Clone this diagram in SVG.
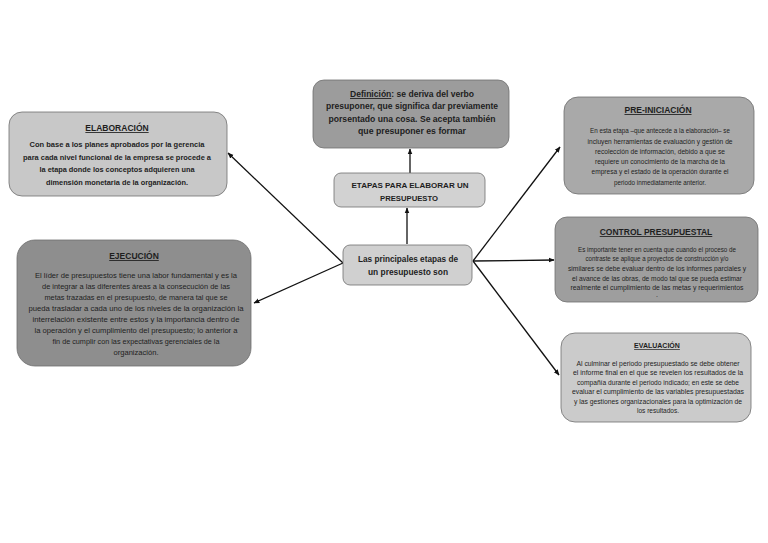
<svg xmlns="http://www.w3.org/2000/svg" width="768" height="543" viewBox="0 0 768 543">
<style>
.box{stroke:#6e6e6e;stroke-width:0.8}
text{font-family:"Liberation Sans",Arial,sans-serif;fill:#1e1e1e;text-anchor:middle}
.t{font-weight:bold;font-size:8.5px;text-decoration:underline}
.b{font-weight:bold;font-size:7.6px}
.r{font-size:7px}
.d{font-weight:bold;font-size:8.6px}
.c{stroke:#111;stroke-width:1.3;fill:none;marker-end:url(#ah)}
</style>
<defs>
<marker id="ah" viewBox="0 0 10 10" refX="9" refY="5" markerWidth="6" markerHeight="6" orient="auto" markerUnits="userSpaceOnUse">
<path d="M0,1 L10,5 L0,9 z" fill="#111"/>
</marker>
</defs>
<rect width="768" height="543" fill="#fff"/>
<g id="connectors">
<line class="c" x1="410" y1="173" x2="410" y2="149"/>
<line class="c" x1="407" y1="244" x2="407" y2="208"/>
<line class="c" x1="343" y1="263" x2="228" y2="153"/>
<line class="c" x1="343" y1="263" x2="254" y2="303"/>
<line class="c" x1="473" y1="261" x2="560" y2="147"/>
<line class="c" x1="473" y1="261" x2="554" y2="260"/>
<line class="c" x1="473" y1="261" x2="559" y2="375"/>
</g>
<g id="elaboracion">
<rect class="box" x="9" y="112" width="218" height="84" rx="13" fill="#c8c8c8"/>
<text class="t" x="117" y="131">ELABORACIÓN</text>
<text class="b" x="117" y="147" textLength="175" lengthAdjust="spacingAndGlyphs">Con base a los planes aprobados por la gerencia</text>
<text class="b" x="117" y="160" textLength="188" lengthAdjust="spacingAndGlyphs">para cada nivel funcional de la empresa se procede a</text>
<text class="b" x="117" y="172" textLength="155" lengthAdjust="spacingAndGlyphs">la etapa donde los conceptos adquieren una</text>
<text class="b" x="117" y="185" textLength="142" lengthAdjust="spacingAndGlyphs">dimensión monetaria de la organización.</text>
</g>
<g id="definicion">
<rect class="box" x="313" y="80" width="196" height="68" rx="11" fill="#9c9c9c"/>
<text class="d" x="412" y="97" textLength="124" lengthAdjust="spacingAndGlyphs"><tspan text-decoration="underline">Definición</tspan>: se deriva del verbo</text>
<text class="d" x="412" y="109" textLength="172" lengthAdjust="spacingAndGlyphs">presuponer, que significa dar previamente</text>
<text class="d" x="412" y="122" textLength="167" lengthAdjust="spacingAndGlyphs">porsentado una cosa. Se acepta también</text>
<text class="d" x="412" y="134" textLength="108" lengthAdjust="spacingAndGlyphs">que presuponer es formar</text>
</g>
<g id="preiniciacion">
<rect class="box" x="564" y="97" width="190" height="97" rx="14" fill="#a9a9a9"/>
<text class="t" x="658" y="113">PRE-INICIACIÓN</text>
<text class="r" x="660" y="133" textLength="140" lengthAdjust="spacingAndGlyphs">En esta etapa –que antecede a la elaboración– se</text>
<text class="r" x="660" y="144" textLength="145" lengthAdjust="spacingAndGlyphs">incluyen herramientas de evaluación y gestión de</text>
<text class="r" x="660" y="154" textLength="130" lengthAdjust="spacingAndGlyphs">recolección de información, debido a que se</text>
<text class="r" x="660" y="164" textLength="130" lengthAdjust="spacingAndGlyphs">requiere un conocimiento de la marcha de la</text>
<text class="r" x="660" y="174" textLength="137" lengthAdjust="spacingAndGlyphs">empresa y el estado de la operación durante el</text>
<text class="r" x="660" y="185" textLength="92" lengthAdjust="spacingAndGlyphs">periodo inmediatamente anterior.</text>
</g>
<g id="etapas">
<rect class="box" x="334" y="173" width="151" height="34" rx="7" fill="#d2d2d2"/>
<text class="b" x="410" y="188" textLength="117" lengthAdjust="spacingAndGlyphs">ETAPAS PARA ELABORAR UN</text>
<text class="b" x="409" y="201" textLength="58" lengthAdjust="spacingAndGlyphs">PRESUPUESTO</text>
</g>
<g id="principales">
<rect class="box" x="343" y="245" width="129" height="40" rx="7" fill="#d0d0d0"/>
<text class="d" x="408" y="262" textLength="100" lengthAdjust="spacingAndGlyphs">Las principales etapas de</text>
<text class="d" x="408" y="275" textLength="80" lengthAdjust="spacingAndGlyphs">un presupuesto son</text>
</g>
<g id="ejecucion">
<rect class="box" x="17" y="240" width="234" height="126" rx="18" fill="#8e8e8e"/>
<text class="t" x="134" y="259">EJECUCIÓN</text>
<text class="r" x="136" y="278" textLength="202" lengthAdjust="spacingAndGlyphs">El líder de presupuestos tiene una labor fundamental y es la</text>
<text class="r" x="136" y="289" textLength="188" lengthAdjust="spacingAndGlyphs">de integrar a las diferentes áreas a la consecución de las</text>
<text class="r" x="136" y="300" textLength="183" lengthAdjust="spacingAndGlyphs">metas trazadas en el presupuesto, de manera tal que se</text>
<text class="r" x="136" y="311" textLength="215" lengthAdjust="spacingAndGlyphs">pueda trasladar a cada uno de los niveles de la organización la</text>
<text class="r" x="136" y="322" textLength="207" lengthAdjust="spacingAndGlyphs">interrelación existente entre estos y la importancia dentro de</text>
<text class="r" x="136" y="333" textLength="203" lengthAdjust="spacingAndGlyphs">la operación y el cumplimiento del presupuesto; lo anterior a</text>
<text class="r" x="136" y="344" textLength="167" lengthAdjust="spacingAndGlyphs">fin de cumplir con las expectativas gerenciales de la</text>
<text class="r" x="136" y="355" textLength="45" lengthAdjust="spacingAndGlyphs">organización.</text>
</g>
<g id="control">
<rect class="box" x="555" y="217" width="203" height="85" rx="12" fill="#9e9e9e"/>
<text class="t" x="656" y="235">CONTROL PRESUPUESTAL</text>
<text class="r" x="657" y="252" textLength="158" lengthAdjust="spacingAndGlyphs">Es importante tener en cuenta que cuando el proceso de</text>
<text class="r" x="657" y="261" textLength="143" lengthAdjust="spacingAndGlyphs">contraste se aplique a proyectos de construcción y/o</text>
<text class="r" x="657" y="271" textLength="178" lengthAdjust="spacingAndGlyphs">similares se debe evaluar dentro de los informes parciales y</text>
<text class="r" x="657" y="281" textLength="170" lengthAdjust="spacingAndGlyphs">el avance de las obras, de modo tal que se pueda estimar</text>
<text class="r" x="657" y="290" textLength="173" lengthAdjust="spacingAndGlyphs">realmente el cumplimiento de las metas y requerimientos</text>
<text class="r" x="657" y="297">.</text>
</g>
<g id="evaluacion">
<rect class="box" x="561" y="333" width="190" height="89" rx="14" fill="#cbcbcb"/>
<text class="t" x="657" y="348" style="font-size:7px">EVALUACIÓN</text>
<text class="r" x="658" y="366" textLength="163" lengthAdjust="spacingAndGlyphs">Al culminar el periodo presupuestado se debe obtener</text>
<text class="r" x="658" y="375" textLength="170" lengthAdjust="spacingAndGlyphs">el informe final en el que se revelen los resultados de la</text>
<text class="r" x="658" y="385" textLength="162" lengthAdjust="spacingAndGlyphs">compañía durante el periodo indicado; en este se debe</text>
<text class="r" x="658" y="394" textLength="172" lengthAdjust="spacingAndGlyphs">evaluar el cumplimiento de las variables presupuestadas</text>
<text class="r" x="658" y="404" textLength="168" lengthAdjust="spacingAndGlyphs">y las gestiones organizacionales para la optimización de</text>
<text class="r" x="658" y="413" textLength="42" lengthAdjust="spacingAndGlyphs">los resultados.</text>
</g>
</svg>
